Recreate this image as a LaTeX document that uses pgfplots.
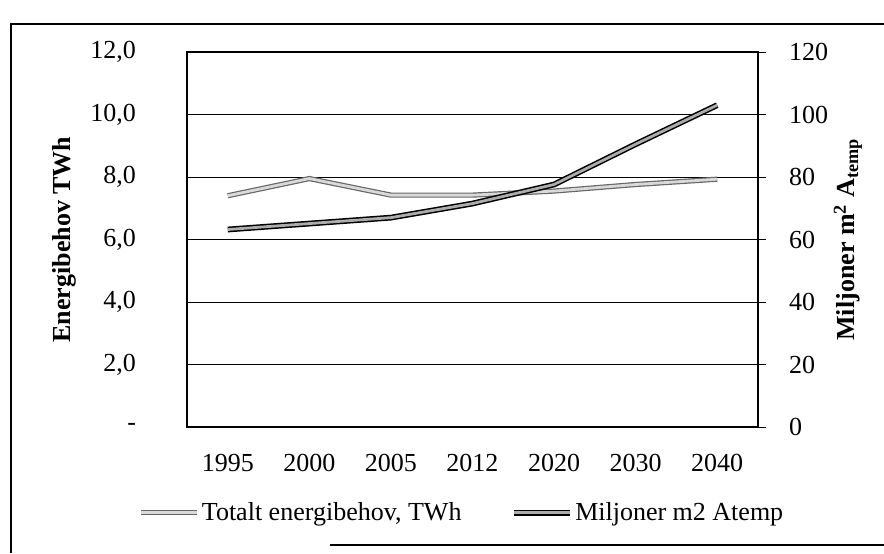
\documentclass[border=0pt]{standalone}
\usepackage{pgfplots}
\pgfplotsset{compat=1.18}
\usepackage{fontspec}
\setmainfont{Liberation Serif}
\begin{document}
\begin{tikzpicture}
\useasboundingbox (-93.5pt,-63pt) rectangle (348.5pt,213.5pt);
\pgfplotsset{
  totstyle/.style={draw=black!60, double=gray!30, line width=0.6pt, double distance=1.4pt},
  milstyle/.style={draw=black, double=gray!65, line width=0.75pt, double distance=1.4pt},
}
% outer frame
\draw[line width=0.6pt] (348.5pt,201.5pt) -- (-88pt,201.5pt) -- (-88pt,-63pt);
\draw[line width=0.6pt] (71.5pt,-59pt) -- (348.5pt,-59pt);
\begin{axis}[
  at={(0,0)}, anchor=south west,
  scale only axis, width=285.5pt, height=187.5pt,
  xmin=-0.5, xmax=6.5, ymin=0, ymax=12,
  xtick={0,1,2,3,4,5,6},
  xticklabels={1995,2000,2005,2012,2020,2030,2040},
  ytick={0,2,4,6,8,10,12},
  yticklabels={{-},{2,0},{4,0},{6,0},{8,0},{10,0},{12,0}},
  major tick length=0pt,
  ymajorgrids, grid style={black, line width=0.5pt},
  axis line style={black, line width=0.8pt},
  tick label style={font=\fontsize{13}{15}\selectfont},
  yticklabel style={xshift=-22pt},
  xticklabel style={yshift=-10pt},
  ylabel={\textbf{Energibehov TWh}},
  ylabel style={at={(axis description cs:-0.214,0.5)}, anchor=center, font=\fontsize{13}{15}\selectfont},
]
\addplot[totstyle] coordinates {(0,7.40) (1,7.95) (2,7.42) (3,7.42) (4,7.55) (5,7.76) (6,7.93)};
\end{axis}
\begin{axis}[
  at={(0,0)}, anchor=south west,
  scale only axis, width=285.5pt, height=187.5pt,
  xmin=-0.5, xmax=6.5, ymin=0, ymax=120,
  axis x line=none, axis y line*=right,
  ytick={0,20,40,60,80,100,120},
  yticklabels={0,20,40,60,80,100,120},
  tick align=outside, major tick length=4pt,
  tick style={black, line width=0.5pt},
  axis line style={black, line width=0.8pt},
  tick label style={font=\fontsize{13}{15}\selectfont},
  yticklabel style={xshift=8pt},
  ylabel={\textbf{Miljoner m\textsuperscript{2} A\textsubscript{temp}}},
  ylabel style={at={(axis description cs:1.1576,0.5)}, anchor=center, rotate=0, font=\fontsize{13}{15}\selectfont},
  legend image code/.code={\draw[#1] (0pt,0pt) -- (28pt,0pt);},
  legend style={at={(0.4816,-0.229)}, anchor=center, draw=none, fill=none,
    legend columns=2, font=\fontsize{13}{15}\selectfont,
    /tikz/every even column/.append style={column sep=24pt},
    nodes={inner sep=1pt}},
  legend cell align=left,
]
\addlegendimage{totstyle}
\addlegendentry{Totalt energibehov, TWh}
\addplot[milstyle] coordinates {(0,63.2) (1,65.1) (2,67.0) (3,71.5) (4,77.6) (5,90.5) (6,103.0)};
\addlegendentry{Miljoner m2 Atemp}
\end{axis}
\end{tikzpicture}
\end{document}
